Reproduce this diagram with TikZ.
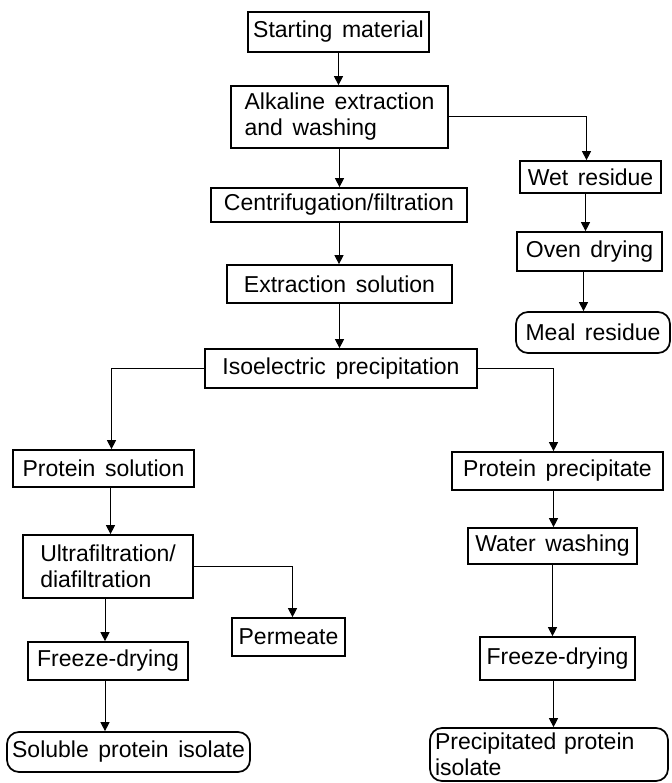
\documentclass[tikz,border=0pt]{standalone}
\usepackage{fontspec}
\setmainfont[WordSpace=1.5]{Liberation Sans}
\usetikzlibrary{arrows.meta}
\tikzset{
  box/.style={draw, line width=1.7pt, inner sep=0pt, align=center,
    font=\fontsize{23pt}{26pt}\selectfont},
  rbox/.style={box, rounded corners=12pt},
  arr/.style={line width=1pt, -{Triangle[width=9pt,length=9pt]}},
  ln/.style={line width=1pt}
}
\begin{document}
\begin{tikzpicture}[x=1pt,y=-1pt]
\useasboundingbox (0,0) rectangle (671,783);
\node[box, minimum width=181pt, minimum height=40pt] (start) at (338.5,32) {Starting material};
\node[box, minimum width=217pt, minimum height=62pt, align=left] (alk) at (339.5,117) {Alkaline extraction\\and washing};
\node[box, minimum width=256pt, minimum height=34pt] (cent) at (339,205) {Centrifugation/filtration};
\node[box, minimum width=225pt, minimum height=38pt] (extr) at (339.5,284) {Extraction solution};
\node[box, minimum width=141pt, minimum height=32pt] (wet) at (590.5,177) {Wet residue};
\node[box, minimum width=145pt, minimum height=39pt] (oven) at (589.5,251.5) {Oven drying};
\node[rbox, minimum width=154pt, minimum height=41pt] (meal) at (593,332.5) {Meal residue};
\node[box, minimum width=272pt, minimum height=39pt] (iso) at (341,368.5) {Isoelectric precipitation};
\node[box, minimum width=181pt, minimum height=37pt] (psol) at (103.5,468.5) {Protein solution};
\node[box, minimum width=211pt, minimum height=38pt] (ppre) at (557.5,471) {Protein precipitate};
\node[box, minimum width=170pt, minimum height=63pt, align=left] (ultra) at (108,566.5) {Ultrafiltration/\\diafiltration};
\node[box, minimum width=113pt, minimum height=38pt] (perm) at (288.5,637) {Permeate};
\node[box, minimum width=169pt, minimum height=36pt] (wash) at (552.5,546) {Water washing};
\node[box, minimum width=160pt, minimum height=38pt] (fdl) at (108,661) {Freeze-drying};
\node[box, minimum width=155pt, minimum height=43pt] (fdr) at (557.5,658.5) {Freeze-drying};
\node[rbox, minimum width=243pt, minimum height=40pt] (sol) at (128.5,752) {Soluble protein isolate};
\node[rbox, minimum width=238pt, minimum height=53pt, text width=228pt, align=left] (prec) at (549,754.5) {Precipitated protein\\isolate};

\draw[arr] (start.south) -- (start.south |- alk.north);
\draw[arr] (alk.south) -- (alk.south |- cent.north);
\draw[arr] (cent.south) -- (cent.south |- extr.north);
\draw[arr] (extr.south) -- (extr.south |- iso.north);
\draw[arr] (alk.east) -| ([xshift=-4pt]wet.north);
\draw[arr] ([xshift=-5pt]wet.south) -- ([xshift=-5pt]wet.south |- oven.north);
\draw[arr] ([xshift=-6pt]oven.south) -- ([xshift=-6pt]oven.south |- meal.north);
\draw[arr] (iso.west) -| ([xshift=8pt]psol.north);
\draw[arr] (iso.east) -| ([xshift=-4pt]ppre.north);
\draw[arr] ([xshift=7pt]psol.south) -- ([xshift=7pt]psol.south |- ultra.north);
\draw[arr] (ultra.east) -| ([xshift=4pt]perm.north);
\draw[arr] ([xshift=-3pt]ultra.south) -- ([xshift=-3pt]ultra.south |- fdl.north);
\draw[arr] ([xshift=-3pt]fdl.south) -- ([xshift=-3pt]fdl.south |- sol.north);
\draw[arr] ([xshift=-4pt]ppre.south) -- ([xshift=-4pt]ppre.south |- wash.north);
\draw[arr] (wash.south) -- (wash.south |- fdr.north);
\draw[arr] ([xshift=-4pt]fdr.south) -- ([xshift=-4pt]fdr.south |- prec.north);
\end{tikzpicture}
\end{document}
